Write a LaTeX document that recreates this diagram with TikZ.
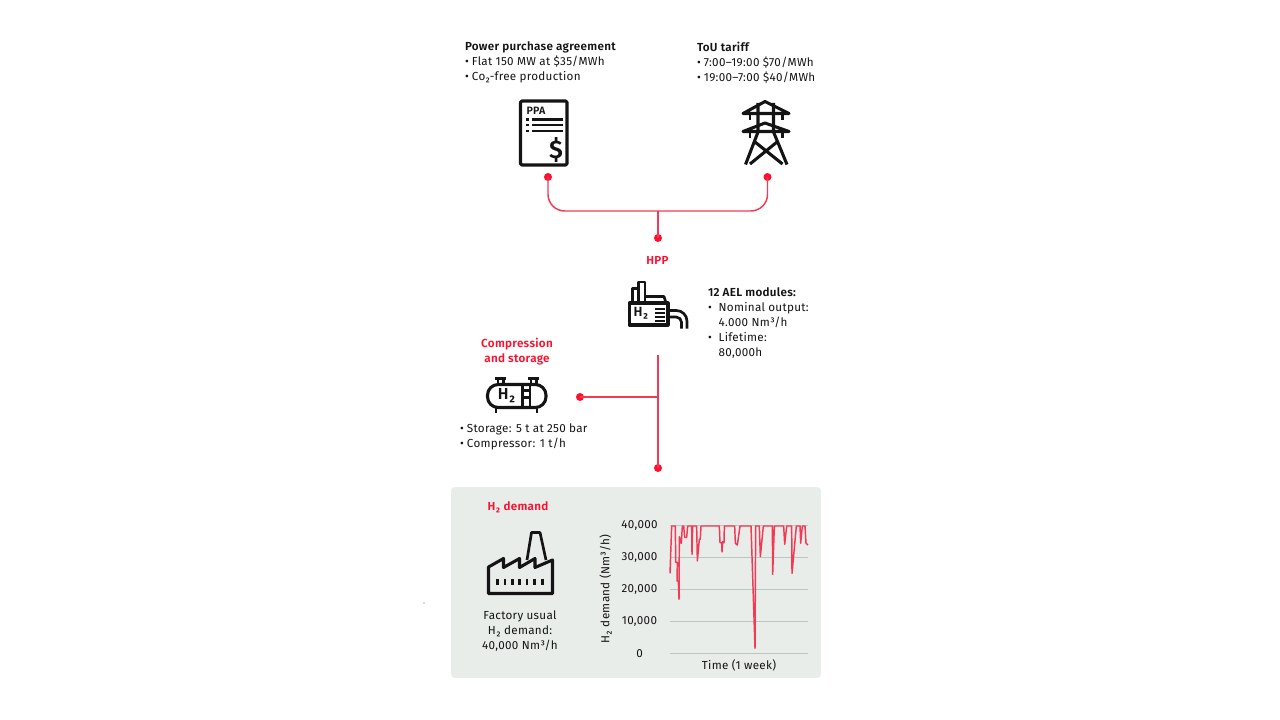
\documentclass[tikz,border=0pt]{standalone}
\usepackage{fontspec}
\setmainfont[LetterSpace=2.5,BoldFont={Fira Sans SemiBold}]{Fira Sans}
\definecolor{abbred}{HTML}{FF0F2D}
\definecolor{linered}{HTML}{F23A55}
\definecolor{panel}{HTML}{E9EDEA}
\definecolor{grid}{HTML}{BCC6C0}
\definecolor{ink}{HTML}{141414}
\tikzset{
  txt/.style={inner sep=0pt,outer sep=0pt,text=ink,font=\fontsize{8.75}{11.25}\selectfont,align=left,anchor=north west,execute at begin node=\strut},
  redhdr/.style={txt,font=\fontsize{8.75}{11.25}\selectfont\bfseries,text=abbred,align=center,anchor=north},
  midtxt/.style={txt,align=center,anchor=north},
  axl/.style={inner sep=0pt,outer sep=0pt,text=ink,font=\fontsize{8.75}{10}\selectfont},
  dot/.style={circle,fill=abbred,draw=none,minimum size=6pt,inner sep=0pt,outer sep=0pt},
  conn/.style={draw=linered,line width=1.1pt},
  icon/.style={draw=ink,line width=2.3pt,line join=round,fill=none},
  iconthin/.style={draw=ink,line width=2pt,line join=round,fill=none},
  gridline/.style={draw=grid,line width=0.8pt},
  curve/.style={draw=linered,line width=1.1pt,line join=round},
}
\newcommand{\bul}{\makebox[5.2pt][l]{•}}
\newcommand{\bulw}{\makebox[8pt][l]{•}}
\begin{document}
\begin{tikzpicture}[x=0.75pt,y=-0.75pt]
\useasboundingbox (0,0) rectangle (1280,720);
% panel
\fill[panel,rounded corners=3pt] (451,487) rectangle (821,678);
\fill[ink!70] (424,603) circle (0.5pt);

% top text
\node[txt] (ppatext) at (465,42) {\textbf{Power purchase agreement}\\\bul Flat 150 MW at \$35/MWh\\\bul Co₂-free production};
\node[txt] (toutext) at (697,42) {\textbf{ToU tariff}\\\bul 7:00–19:00 \$70/MWh\\\bul 19:00–7:00 \$40/MWh};

% PPA icon
\draw[icon,rounded corners=1pt] (520.5,101) rectangle (567,165);
\node[inner sep=0pt,text=ink,font=\fontsize{8}{9}\selectfont\bfseries] (ppalabel) at (536,110.5) {PPA};
\foreach \yy in {119.5,125,131}{
  \draw[iconthin] (532,\yy) -- (562.5,\yy);
  \fill[ink] (526,\yy-1.3) rectangle (529,\yy+1.3);
}
\node[inner sep=0pt,text=ink,font=\fontsize{19}{20}\selectfont\bfseries] (dollar) at (556,150) {\$};

% Tower icon
\draw[icon] (743,113.5) -- (765,101.5) -- (789,113.5) -- cycle;
\draw[icon] (743,131.5) -- (765,123) -- (789,131.5) -- cycle;
\draw[iconthin] (750,114) -- (750,120.5) (782.5,114) -- (782.5,120.5);
\draw[iconthin] (750,132) -- (750,138) (782.5,132) -- (782.5,138);
\draw[icon] (758,103) -- (758,132) -- (745.5,164.5);
\draw[icon] (773.5,103) -- (773.5,132) -- (787,164.5);
\draw[icon] (755,142) -- (782.5,164) (777,142) -- (750,164);

% Connectors top
\node[dot] (d1) at (548,177) {};
\node[dot] (d2) at (767.5,177) {};
\node[dot] (d3) at (658,238) {};
\coordinate (j1) at (658,211);
\draw[conn,rounded corners=12.5pt] (d1.center) |- (j1) -| (d2.center);
\draw[conn] (j1) -- (d3.center);

% HPP
\node[redhdr] (hpp) at (657.5,253.5) {HPP};
\draw[icon] (629.5,303) rectangle (668,325);
\draw[iconthin] (632.5,303) -- (632.5,288.5) -- (638.5,288.5) (638.5,303) -- (638.5,282) -- (645,282) -- (645,303);
\draw[iconthin] (646,296.5) -- (664,296.5) -- (666,303);
\node[inner sep=0pt,text=ink,font=\fontsize{10}{11}\selectfont\bfseries] (hpph2) at (641,313.5) {H₂};
\foreach \yy in {308.5,312.5,316.5,320.5} \draw[draw=ink,line width=1.5pt] (655,\yy) -- (665,\yy);
\draw[iconthin,rounded corners=8pt] (668,310.5) -- (687,310.5) -- (687,328.5);
\draw[iconthin,rounded corners=4pt] (668,317) -- (681.5,317) -- (681.5,328.5);
\node[txt] (aeltext) at (708,287.5) {\textbf{12 AEL modules:}\\\bulw Nominal output:\\\hspace*{8pt}4.000 Nm³/h\\\bulw Lifetime:\\\hspace*{8pt}80,000h};

% Compression and storage
\node[redhdr] (comp) at (517,338) {Compression\\and storage};
\draw[icon,rounded corners=8pt] (487.5,384.5) rectangle (546,407.5);
\draw[iconthin] (495,378.5) -- (506,378.5) (498,378.5) -- (498,384) (503.5,378.5) -- (503.5,384);
\draw[iconthin] (528,378.5) -- (539,378.5) (531,378.5) -- (531,384) (536.5,378.5) -- (536.5,384);
\draw[iconthin] (496,407.5) -- (496,412.5) (537,407.5) -- (537,412.5);
\draw[iconthin] (522.5,385) -- (522.5,407) (530,385) -- (530,407) (522.5,390.5) -- (530,390.5) (522.5,397.5) -- (530,397.5);
\node[inner sep=0pt,text=ink,font=\fontsize{12}{13}\selectfont\bfseries] (tankh2) at (506.5,396) {H₂};
\node[txt] (stortext) at (460,424) {\bul Storage: 5 t at 250 bar\\\bul Compressor: 1 t/h};

% Connectors mid
\coordinate (v0) at (658,355);
\coordinate (j2) at (658,397);
\node[dot] (d4) at (580,397) {};
\node[dot] (d5) at (658,468) {};
\draw[conn] (v0) -- (d5.center);
\draw[conn] (d4.center) -- (j2);

% H2 demand
\node[redhdr] (dem) at (518,499.5) {H₂ demand};
\draw[icon] (488.5,593.5) -- (488.5,567) -- (503.5,558.5) -- (503.5,567.5) -- (519.5,558.5) -- (519.5,567.5) -- (535,558.5) -- (535,567.5) -- (552.5,560) -- (552.5,593.5) -- cycle;
\draw[iconthin] (527,560) -- (531.5,532.5) -- (540,532.5) -- (546,560);
\foreach \xx in {497.5,505,512.5,519.5,527,534.5,542.5} \fill[ink] (\xx-1.3,578.5) rectangle (\xx+1.3,584.5);
\node[midtxt] (factext) at (520,610.5) {Factory usual\\H₂ demand:\\40,000 Nm³/h};

% Chart
\foreach \yy/\nm/\lab in {525.5/a/{40,000},557.5/b/{30,000},589.5/c/{20,000},621.5/d/{10,000},653.5/e/{0}}{
  \coordinate (gl\nm) at (670,\yy);
  \coordinate (gr\nm) at (808,\yy);
  \draw[gridline] (gl\nm) -- (gr\nm);
  \node[axl] (lab\nm) at (639.5,\yy) {\lab};
}
\node[axl,rotate=90] (ylab) at (605.5,589) {H₂ demand (Nm³/h)};
\node[axl] (xlab) at (739,665.5) {Time (1 week)};
\begin{scope}[shift={(590,510)},x=0.25pt,y=-0.25pt]
\draw[curve] (240,190) -- (245,48) -- (256,48) -- (257,157) -- (262,157) -- (261,213) -- (265,213) -- (267,268) -- (268,80) -- (272,95) -- (274,100) -- (277,48) -- (281,48) -- (284,82) -- (290,82) -- (293,48) -- (305,48) -- (306,133) -- (308,48) -- (320,48) -- (322,153) -- (328,88) -- (331,88) -- (333,48) -- (388,48) -- (390,98) -- (395,98) -- (396,126) -- (398,95) -- (402,98) -- (403,48) -- (434,48) -- (436,100) -- (442,105) -- (450,48) -- (483,48) -- (495,415) -- (497,48) -- (508,48) -- (511,140) -- (520,48) -- (547,48) -- (548,193) -- (553,48) -- (581,48) -- (584,103) -- (590,48) -- (605,48) -- (606,190) -- (619,48) -- (630,48) -- (632,100) -- (637,48) -- (645,48) -- (648,100) -- (654,105);
\end{scope}
\end{tikzpicture}
\end{document}
